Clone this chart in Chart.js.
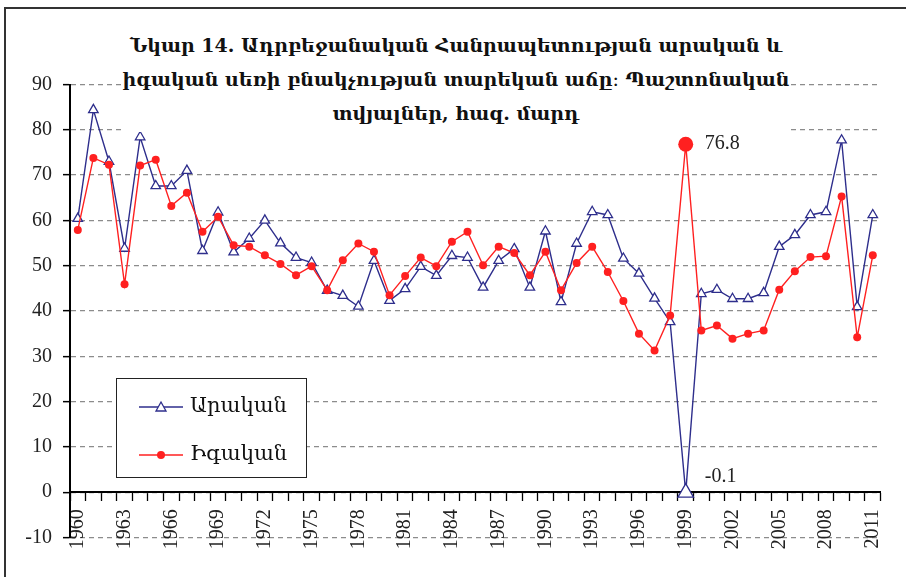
<!DOCTYPE html>
<html>
<head>
<meta charset="utf-8">
<script src="https://cdn.jsdelivr.net/npm/chart.js@4.4.1/dist/chart.umd.min.js"></script>
<style>
  body { margin: 0; background: #fff; }
  #wrap { position: relative; width: 906px; height: 577px; overflow: hidden; }
  #frame { position: absolute; left: 4px; top: 7px; width: 1000px; height: 1000px; border-left: 2px solid #333; border-top: 2px solid #333; }
  #title { position: absolute; left: 122px; top: 18px; width: 668px; padding: 10px 0 2px 0; background: #fff; white-space: nowrap;
           font: bold 19px "DejaVu Serif", serif; line-height: 34px; text-align: center; color: #111; }
  #legend { position: absolute; left: 116px; top: 378px; width: 189px; height: 98px; border: 1.5px solid #222; background: #fff;
            font: 21px "DejaVu Serif", serif; color: #111; }
  #legend div { position: absolute; left: 22px; height: 30px; line-height: 30px; }
  #legend svg { vertical-align: middle; margin-right: 7px; }
</style>
</head>
<body>
<div id="wrap">
  <div id="frame"></div>
  <canvas id="myChart" width="906" height="577"></canvas>
  <div id="title">Նկար 14. Ադրբեջանական Հանրապետության արական և<br>իգական սեռի բնակչության տարեկան աճը։ Պաշտոնական<br>տվյալներ, հազ. մարդ</div>
  <div id="legend">
    <div style="top:11px"><svg width="44" height="14"><line x1="0" y1="7" x2="44" y2="7" stroke="#2e2e8c" stroke-width="1.5"/><polygon points="22,2 27,11 17,11" fill="#fff" stroke="#2e2e8c" stroke-width="1.3"/></svg>Արական</div>
    <div style="top:59px"><svg width="44" height="14"><line x1="0" y1="7" x2="44" y2="7" stroke="#ff2020" stroke-width="1.5"/><circle cx="22" cy="7" r="4" fill="#ff2020"/></svg>Իգական</div>
  </div>
</div>
<script>
var years = ['1960','1961','1962','1963','1964','1965','1966','1967','1968','1969',
             '1970','1971','1972','1973','1974','1975','1976','1977','1978','1979',
             '1980','1981','1982','1983','1984','1985','1986','1987','1988','1989',
             '1990','1991','1992','1993','1994','1995','1996','1997','1998','1999',
             '2000','2001','2002','2003','2004','2005','2006','2007','2008','2009',
             '2010','2011'];
var maleVals = [60.4, 84.4, 73.0, 53.8, 78.4, 67.6, 67.6, 71.0, 53.3, 61.8,
                53.0, 56.0, 60.0, 55.0, 51.8, 50.7, 44.5, 43.4, 41.0, 51.1,
                42.3, 44.9, 49.8, 47.8, 52.2, 51.8, 45.2, 51.1, 53.7, 45.2,
                57.6, 42.0, 54.9, 61.9, 61.2, 51.6, 48.3, 42.8, 37.6, -0.1,
                43.8, 44.7, 42.7, 42.7, 44.0, 54.2, 56.8, 61.2, 61.9, 77.7,
                40.9, 61.2];
var femaleVals = [57.9, 73.8, 72.3, 45.9, 72.1, 73.4, 63.2, 66.1, 57.5, 60.8,
                  54.5, 54.2, 52.3, 50.4, 47.9, 49.9, 44.6, 51.2, 54.9, 53.1,
                  43.5, 47.7, 51.8, 49.9, 55.3, 57.5, 50.1, 54.2, 52.8, 47.9,
                  53.1, 44.6, 50.6, 54.2, 48.6, 42.2, 35.0, 31.3, 39.0, 76.8,
                  35.7, 36.8, 33.9, 35.0, 35.7, 44.7, 48.8, 51.9, 52.1, 65.3,
                  34.2, 52.3];
var seriesNames = ['Արական', 'Իգական'];
// data labels shown in the picture: [dataset, index, text]
var pointLabels = [[1, 39, '76.8'], [0, 39, '-0.1']];

var blue = '#2e2e8c';
var red = '#ff2020';

var radiusFor = function(arr, normal, big){
    return arr.map(function(v, i){ return i === 39 ? big : normal; });
};

var labelPlugin = {
    id: 'pointLabels',
    afterDatasetsDraw: function(chart){
        var ctx = chart.ctx;
        ctx.save();
        ctx.font = '20px "Liberation Serif", serif';
        ctx.fillStyle = '#222';
        ctx.textAlign = 'left';
        ctx.textBaseline = 'middle';
        pointLabels.forEach(function(p){
            var el = chart.getDatasetMeta(p[0]).data[p[1]];
            var dy = p[0] === 0 ? -16 : -1;
            ctx.fillText(p[2], el.x + 19, el.y + dy);
        });
        ctx.restore();
    }
};

var ctx = document.getElementById('myChart');
var mChart = new Chart(ctx, {
    type: 'line',
    data: {
        labels: years,
        datasets: [{
            label: seriesNames[0],
            data: maleVals,
            borderColor: blue,
            borderWidth: 1.4,
            pointStyle: 'triangle',
            pointRadius: radiusFor(maleVals, 5.5, 9),
            pointBackgroundColor: '#fff',
            pointBorderColor: blue,
            pointBorderWidth: 1.3,
            tension: 0,
            order: 1
        }, {
            label: seriesNames[1],
            data: femaleVals,
            borderColor: red,
            borderWidth: 1.4,
            pointStyle: 'circle',
            pointRadius: radiusFor(femaleVals, 4, 7.5),
            pointBackgroundColor: red,
            pointBorderColor: red,
            pointBorderWidth: 0,
            tension: 0,
            order: 0
        }]
    },
    options: {
        responsive: false,
        animation: false,
        layout: { padding: { left: 0, top: 84.5, right: 23, bottom: 39.5 } },
        plugins: {
            legend: { display: false },
            title: { display: false },
            tooltip: { enabled: false }
        },
        scales: {
            x: {
                position: { y: 0 },
                offset: true,
                grid: { display: true, drawOnChartArea: false, offset: true, tickLength: 8, color: '#000', tickColor: '#000', tickWidth: 1.3 },
                border: { display: true, color: '#000', width: 2 },
                ticks: {
                    autoSkip: false,
                    minRotation: 90,
                    maxRotation: 90,
                    padding: 9,
                    color: '#222',
                    font: { family: '"Liberation Serif", serif', size: 20 },
                    callback: function(val, i){ return i % 3 === 0 ? years[i] : ''; }
                },
                afterFit: function(scale){ scale.height = 0; }
            },
            y: {
                min: -10,
                max: 90,
                ticks: {
                    stepSize: 10,
                    padding: 11,
                    color: '#222',
                    font: { family: '"Liberation Serif", serif', size: 20 }
                },
                grid: { color: '#8c8c8c', lineWidth: 1.3, tickLength: 7, tickColor: '#000', tickWidth: 1.5 },
                border: { display: true, color: '#000', width: 2, dash: [5, 4] },
                afterFit: function(scale){ scale.width = 70; }
            }
        }
    },
    plugins: [labelPlugin]
});
</script>
</body>
</html>
